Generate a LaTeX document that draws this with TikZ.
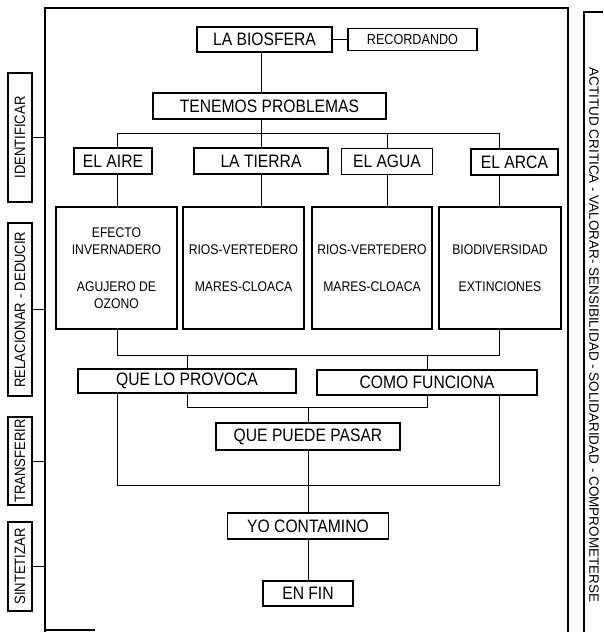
\documentclass[tikz,border=0pt]{standalone}
\usepackage{fontspec}
\setmainfont{Liberation Sans}
\newfontfamily\narrowfont{Liberation Sans}[FakeStretch=0.87]
\usepackage{tikz}

\begin{document}
\begin{tikzpicture}[x=1pt,y=-1pt,
  box/.style={draw, line width=1.3pt, inner sep=0pt, align=center},
  head/.style={box, font=\narrowfont\fontsize{18}{20}\selectfont},
  topic/.style={box, minimum width=121pt, minimum height=122pt,
    font=\narrowfont\fontsize{14}{17.5}\selectfont},
  side/.style={box, rotate=90, minimum height=24pt,
    font=\narrowfont\fontsize{15}{17}\selectfont},
  link/.style={line width=1pt}]
\useasboundingbox (0,0) rectangle (603,632);
%
% frame
\draw[line width=1.4pt] (45,632) -- (45,8) -- (568,8) -- (568,632);
\draw[line width=1.4pt] (45,630) -- (95,630);
\coordinate (frameL) at (45,0);
\draw[line width=1.4pt] (603,12) -- (584,12) -- (584,632);
\node (actitud) at (594,335) [rotate=-90, font=\fontsize{13.5}{15}\selectfont]
{ACTITUD CRITICA - VALORAR- SENSIBILIDAD - SOLIDARIDAD - COMPROMETERSE};
%
% side labels (rotated, so south is the right side)
\node (identificar) at (20,137.5) [side, minimum width=129pt] {IDENTIFICAR};
\node (relacionar) at (20,309.5) [side, minimum width=173pt] {RELACIONAR - DEDUCIR};
\node (transferir) at (20,461) [side, minimum width=88pt] {TRANSFERIR};
\node (sintetizar) at (20,566.5) [side, minimum width=89pt] {SINTETIZAR};
\foreach \s in {identificar,relacionar,transferir,sintetizar}
  \draw[link] (\s.south) -- (\s.south -| frameL);
%
% top
\node (biosfera) at (264.5,39.5) [head, minimum width=135pt, minimum height=25pt] {LA BIOSFERA};
\node (recordando) at (412.5,39.5) [box, minimum width=129pt, minimum height=22pt,
  font=\narrowfont\fontsize{14.5}{16}\selectfont] {RECORDANDO};
\node (problemas) at (269.5,106) [head, minimum width=233pt, minimum height=26pt] {TENEMOS PROBLEMAS};
\node (aire) at (113,161) [head, minimum width=78pt, minimum height=26pt] {EL AIRE};
\node (tierra) at (261,161) [head, minimum width=134pt, minimum height=26pt] {LA TIERRA};
\node (agua) at (387,161.5) [head, minimum width=91pt, minimum height=26pt] {EL AGUA};
\node (arca) at (514.5,162) [head, minimum width=87pt, minimum height=26pt] {EL ARCA};
%
\node (efecto) at (116.5,268) [topic] {EFECTO\\INVERNADERO\\[19pt]AGUJERO DE\\OZONO};
\node (rios) at (243.5,268) [topic] {RIOS-VERTEDERO\\[19pt]MARES-CLOACA};
\node (riosb) at (372,268) [topic, minimum width=120pt] {RIOS-VERTEDERO\\[19pt]MARES-CLOACA};
\node (bio) at (500,268) [topic, minimum width=122pt] {BIODIVERSIDAD\\[19pt]EXTINCIONES};
%
% bottom
\node (provoca) at (187,381) [head, minimum width=218pt, minimum height=24pt] {QUE LO PROVOCA};
\node (funciona) at (427,382.5) [head, minimum width=220pt, minimum height=25pt] {COMO FUNCIONA};
\node (pasar) at (308,436.5) [head, minimum width=184pt, minimum height=27pt] {QUE PUEDE PASAR};
\node (yo) at (308,526) [head, minimum width=161pt, minimum height=26pt] {YO CONTAMINO};
\node (fin) at (308,593.5) [head, minimum width=90pt, minimum height=25pt] {EN FIN};
%
% connectors
\draw[link] (biosfera) -- (recordando);
\draw[link] (biosfera.south -| tierra) -- (problemas.north -| tierra);
\coordinate (busA) at (117,133);
\coordinate (busD) at (499,133);
\draw[link] (busA) -- (busD);
\draw[link] (problemas.south -| tierra) -- (tierra.north);
\draw[link] (busA) -- (aire.north -| busA);
\draw[link] (aire.south -| busA) -- (efecto.north -| busA);
\draw[link] (tierra.south) -- (rios.north -| tierra);
\draw[link] (busA -| agua) -- (agua.north);
\draw[link] (agua.south) -- (riosb.north -| agua);
\draw[link] (busD) -- (arca.north -| busD);
\draw[link] (arca.south -| busD) -- (bio.north -| busD);
%
\coordinate (lowA) at (117,355);
\coordinate (lowD) at (499,355);
\draw[link] (efecto.south -| lowA) -- (lowA) -- (lowD) -- (bio.south -| lowD);
\draw[link] (lowA -| provoca) -- (provoca.north);
\draw[link] (lowA -| funciona) -- (funciona.north);
\coordinate (mid) at (308,407);
\draw[link] (provoca.south) -- (provoca.south |- mid) -- (funciona.south |- mid) -- (funciona.south);
\draw[link] (mid) -- (pasar.north);
\coordinate (loopA) at (117,485);
\coordinate (loopD) at (499,485);
\draw[link] (provoca.south -| loopA) -- (loopA) -- (loopD) -- (funciona.south -| loopD);
\draw[link] (pasar) -- (yo) -- (fin);
\end{tikzpicture}
\end{document}
